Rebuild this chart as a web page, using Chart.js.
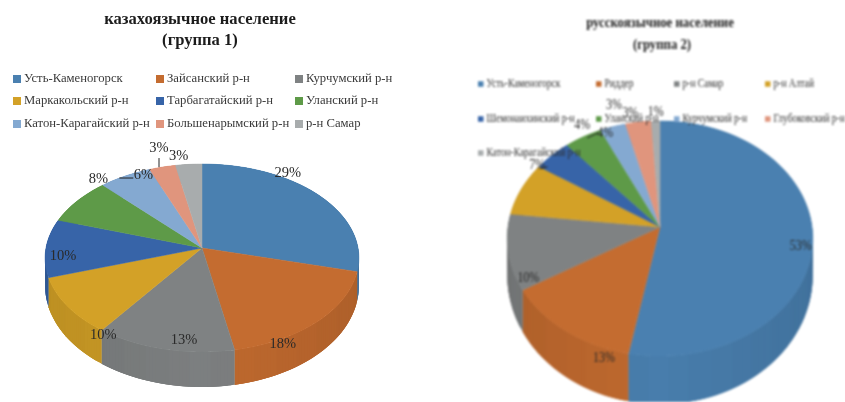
<!DOCTYPE html>
<html><head><meta charset="utf-8">
<script src="https://cdn.jsdelivr.net/npm/chart.js@4/dist/chart.umd.min.js"></script>
<style>
html,body{margin:0;padding:0;background:#fff;width:845px;height:402px;overflow:hidden}
canvas{position:absolute;top:0}
#c1{left:0;filter:blur(.5px)}
#c2{left:440px;filter:blur(.8px)}
</style></head><body>
<canvas id="c1" width="440" height="402"></canvas>
<canvas id="c2" width="405" height="402"></canvas>
<script>
const leftTitle = ["казахоязычное население", "(группа 1)"];
const leftCategories = ["Усть-Каменогорск","Зайсанский р-н","Курчумский р-н","Маркакольский р-н","Тарбагатайский р-н","Уланский р-н","Катон-Карагайский р-н","Большенарымский р-н","р-н Самар"];
const leftValues = [29,18,13,10,10,8,6,3,3];

const rightTitle = ["русскоязычное население", "(группа 2)"];
const rightCategories = ["Усть-Каменогорск","Риддер","р-н Самар","р-н Алтай","Шемонаихинский р-н","Уланский р-н","Курчумский р-н","Глубоковский р-н","Катон-Карагайский р-н"];
const rightValues = [53,13.4,10.4,7.4,4.4,4.4,3,3,1];

const sliceColors = ["#4A80B0","#C46C30","#7F8283","#D3A127","#3764A8","#5E9A48","#84A9D1","#E0957D","#A8ACAD"];

function shade(hex,f){
  const n=parseInt(hex.slice(1),16);
  return `rgb(${(n>>16&255)*f|0},${(n>>8&255)*f|0},${(n&255)*f|0})`;
}
function put(ctx,t,x,y,font,color,sx,align){
  ctx.save();ctx.translate(x,y);ctx.scale(sx,1);
  ctx.font=font;ctx.fillStyle=color;ctx.textBaseline="middle";ctx.textAlign=align||"left";
  ctx.fillText(t,0,0);ctx.restore();
}
const pie3d = {
  id:"pie3d",
  beforeDatasetDraw(){return false;},
  afterDatasetsDraw(chart,_,o){
    const ctx=chart.ctx, arcs=chart.getDatasetMeta(0).data, colors=chart.data.datasets[0].backgroundColor;
    const proj=(a)=>{const u=Math.cos(a),v=Math.sin(a),d=1-o.p*v;
      return {x:o.cx+o.a*u/d,y:o.cy+o.b*v/d,u,v};};
    const N=0.02;
    // side wall: soft vertical bands, as in the reference's gradient
    arcs.forEach((arc,i)=>{
      const span=arc.endAngle-arc.startAngle, n=Math.ceil(span/N);
      for(let k=0;k<n;k++){
        const p=proj(arc.startAngle+span*k/n);
        const q=proj(arc.startAngle+span*Math.min(n,k+3)/n);
        const hp=o.h0+o.h1*p.v, hq=o.h0+o.h1*q.v;
        const ux=Math.round(Math.abs(p.u)*8)/8;
        ctx.fillStyle=shade(colors[i],0.98-0.09*ux);
        ctx.beginPath();ctx.moveTo(p.x,p.y);ctx.lineTo(q.x,q.y);ctx.lineTo(q.x,q.y+hq);ctx.lineTo(p.x,p.y+hp);ctx.closePath();ctx.fill();
      }
    });
    // top face
    arcs.forEach((arc,i)=>{
      ctx.beginPath();ctx.moveTo(o.cx,o.cy);
      const n=Math.ceil((arc.endAngle-arc.startAngle)/N);
      for(let k=0;k<=n;k++){const p=proj(arc.startAngle+(arc.endAngle-arc.startAngle)*k/n);ctx.lineTo(p.x,p.y);}
      ctx.closePath();ctx.fillStyle=colors[i];ctx.fill();
      ctx.strokeStyle=colors[i];ctx.lineWidth=.5;ctx.stroke();
    });
    // legend
    o.legendRows.forEach((row,r)=>row.forEach((idx,c)=>{
      const x=o.legendX[c], y=o.legendY[r], name=chart.data.labels[idx];
      ctx.fillStyle=colors[idx];
      ctx.fillRect(x,y-o.mark/2,o.mark,o.mark);
      put(ctx,name,x+o.mark+o.markGap,y,o.legendFont,o.legendColor,o.sx);
    }));
    // title
    o.title.forEach((t,i)=>put(ctx,t,o.titleX+(o.titleDx?o.titleDx[i]:0),o.titleY[i],o.titleFont,"#1c1c1c",o.titleSx[i],"center"));
    // labels
    const vals=chart.data.datasets[0].data;
    arcs.forEach((arc,i)=>{
      const m=proj((arc.startAngle+arc.endAngle)/2), off=o.labelOffsets[i];
      const lead=o.leaders[i];
      if(lead){ctx.strokeStyle="#222";ctx.lineWidth=1;ctx.beginPath();
        ctx.moveTo(m.x+lead[0],m.y+lead[1]);ctx.lineTo(m.x+lead[2],m.y+lead[3]);ctx.stroke();}
      put(ctx,Math.round(vals[i])+"%",m.x+off[0],m.y+off[1],o.labelFont,"#2a2a2a",o.labelSx,"center");
    });
  }
};
function make(id,labels,values,opt){
  return new Chart(document.getElementById(id),{
    type:"pie",
    data:{labels,datasets:[{data:values,backgroundColor:sliceColors,borderWidth:0}]},
    plugins:[pie3d],
    options:{responsive:false,animation:false,events:[],
      plugins:{legend:{display:false},tooltip:{enabled:false},title:{display:false},pie3d:opt}}
  });
}
make("c1",leftCategories,leftValues,{
  cx:202,cy:248,a:156,b:92.9,p:.1064,h0:27,h1:8,
  title:leftTitle,titleX:200,titleY:[20,41],titleFont:"bold 16.6px 'Liberation Serif'",titleSx:[1,1],
  legendRows:[[0,1,2],[3,4,5],[6,7,8]],legendX:[13,156,295],legendY:[79,101,124],mark:8,markGap:3,
  legendFont:"12.7px 'Liberation Serif'",legendColor:"#3a3a3a",sx:1,
  labelFont:"14.5px 'Liberation Serif'",labelSx:1,
  labelOffsets:[[-30,-21],[-35,23],[20,-9],[36,29],[17,8],[21,-22],[18,-1],[-3.5,-19],[-10,-8]],
  leaders:[null,null,null,null,null,null,[-6,2,8,2],[-3.5,0,-3.5,-9],null]
});
make("c2",rightCategories,rightValues,{
  cx:220,cy:227,a:152,b:116.4,p:.098,h0:35,h1:13,
  title:rightTitle,titleX:220,titleY:[23,45],titleDx:[0,2],titleFont:"bold 15px 'Liberation Serif'",titleSx:[.85,.85],
  legendRows:[[0,1,2,3],[4,5,6,7],[8]],legendX:[38,156,234,325],legendY:[84,119,153],mark:5.5,markGap:3,
  legendFont:"13px 'Liberation Serif'",legendColor:"#2e2e2e",sx:.73,
  labelFont:"14px 'Liberation Serif'",labelSx:.85,
  labelOffsets:[[-12,8],[38.5,28],[20,26],[15.5,-24],[30,-30],[22,-4],[1,-21],[-8,-9],[0,-9]],
  leaders:[null,null,null,[18,-20,26,-22],null,[4,1,15,-4],null,null,null]
});
</script>
</body></html>
